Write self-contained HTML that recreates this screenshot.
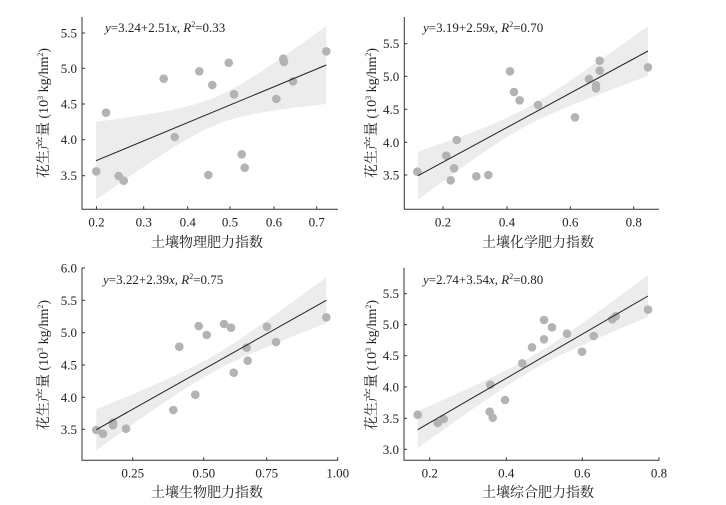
<!DOCTYPE html>
<html><head><meta charset="utf-8"><style>
body{margin:0;background:#fff}
svg{display:block}
svg text{font-family:"Liberation Serif","Times New Roman","Noto Serif CJK SC",serif;fill:#222}
</style></head><body>
<svg id="s" width="726" height="505" viewBox="0 0 726 505" xmlns="http://www.w3.org/2000/svg" font-family="Liberation Serif, Noto Serif CJK SC, serif"></svg>
<script>
const S=document.getElementById('s');let out='';
const F='font-family="Liberation Serif, Noto Serif CJK SC, serif"';
const P=[
{ax:82,ay:209.3,top:17,right:338,
 yt:[[5.5,33],[5.0,68.3],[4.5,104],[4.0,139.7],[3.5,175.7]],
 xt:[['0.2',96.5],['0.3',143.7],['0.4',187.7],['0.5',230],['0.6',274],['0.7',316.7]],
 line:[96,160.7,326.3,65],hL:39,hR:39,xm:215,hm:14,
 eq:['3.24+2.51','0.33'],ex:105,ey:32,xl:'土壤物理肥力指数',xlx:207,xly:247,ylx:43,yly:113,
 pts:[[289,514],[318,338],[356,528],[371,542],[491,236],[524,411],[598,214],[625,525],[637,255],[686,188],[702,283],[725,463],[734,503],[829,297],[850,176],[852,186],[879,244],[979,154]],ox:0,oy:0},
{ax:404.3,ay:209.3,top:17,right:659,
 yt:[[5.5,43.7],[5.0,76.3],[4.5,109.3],[4.0,142.3],[3.5,175]],
 xt:[['0.2',443],['0.4',507],['0.6',570.3],['0.8',633.7]],
 line:[418,175.7,648,51],hL:24,hR:25,xm:523,hm:9,
 eq:['3.19+2.59','0.70'],ex:423,ey:32,xl:'土壤化学肥力指数',xlx:538,xly:247,ylx:371,yly:113,
 pts:[[163,515],[250,467],[263,541],[273,505],[281,420],[340,529],[376,525],[441,214],[453,276],[470,301],[525,315],[636,352],[678,237],[699,256],[699,265],[710,182],[710,212],[855,202]],ox:363,oy:0},
{ax:82,ay:460.3,top:267.7,right:338,
 yt:[[6.0,268],[5.5,300.3],[5.0,332.7],[4.5,365],[4.0,397.3],[3.5,429.3]],
 xt:[['0.25',132.7],['0.50',203.7],['0.75',266.7],['1.00',337.7]],
 line:[96.3,429.7,326.3,300.3],hL:20.5,hR:23,xm:210,hm:8,
 eq:['3.22+2.39','0.75'],ex:103,ey:284,xl:'土壤生物肥力指数',xlx:207,xly:497,ylx:43,yly:365,
 pts:[[289,534],[309,545],[339,512],[339,520],[378,530],[520,474],[538,284],[586,428],[596,222],[620,249],[672,216],[693,227],[701,362],[740,287],[743,326],[801,224],[828,270],[979,196]],ox:0,oy:252},
{ax:404,ay:460.3,top:267.7,right:659,
 yt:[[5.5,293.7],[5.0,324.7],[4.5,355.7],[4.0,387],[3.5,418.3],[3.0,449.3]],
 xt:[['0.2',429.7],['0.4',506.3],['0.6',582.3],['0.8',659]],
 line:[417.7,429.7,648,296],hL:18.5,hR:21,xm:533,hm:7,
 eq:['2.74+3.54','0.80'],ex:423,ey:284,xl:'土壤综合肥力指数',xlx:538,xly:497,ylx:371,yly:365,
 pts:[[164,488],[224,513],[242,501],[380,479],[382,398],[389,497],[426,444],[478,334],[507,286],[543,204],[543,262],[567,226],[612,245],[657,299],[692,252],[748,202],[758,193],[855,173]],ox:363,oy:252}
];
for(const p of P){
 const [x0,y0,x1,y1]=p.line;const ly=x=>y0+(y1-y0)*(x-x0)/(x1-x0);
 const h=x=>{const H=x<p.xm?p.hL:p.hR;const e=x<p.xm?x0:x1;const t=(x-p.xm)/(e-p.xm);return Math.sqrt(p.hm*p.hm+(H*H-p.hm*p.hm)*t*t);};
 let up=[],lo=[];
 for(let i=0;i<=60;i++){const x=x0+(x1-x0)*i/60;up.push(x.toFixed(1)+','+(ly(x)-h(x)).toFixed(1));lo.unshift(x.toFixed(1)+','+(ly(x)+h(x)).toFixed(1));}
 out+=`<polygon points="${up.concat(lo).join(' ')}" fill="#ececec"/>`;
 for(const [zx,zy] of p.pts){out+=`<circle cx="${(p.ox+zx/3).toFixed(1)}" cy="${(p.oy+zy/3).toFixed(1)}" r="4.3" fill="#b3b3b3"/>`;}
 out+=`<line x1="${x0}" y1="${y0}" x2="${x1}" y2="${y1}" stroke="#222" stroke-width="1"/>`;
 out+=`<path d="M${p.ax},${p.top}V${p.ay}H${p.right}" fill="none" stroke="#333" stroke-width="1"/>`;
 for(const [v,y] of p.yt){out+=`<line x1="${p.ax}" y1="${y}" x2="${p.ax+3}" y2="${y}" stroke="#333"/><text ${F} x="${p.ax-5}" y="${y+4.5}" font-size="13" text-anchor="end">${v.toFixed(1)}</text>`;}
 for(const [l,x] of p.xt){out+=`<line x1="${x}" y1="${p.ay}" x2="${x}" y2="${p.ay-3}" stroke="#333"/><text ${F} x="${x}" y="${p.ay+17}" font-size="13" text-anchor="middle">${l}</text>`;}
 out+=`<text ${F} x="${p.ex}" y="${p.ey}" font-size="13"><tspan font-style="italic">y</tspan>=${p.eq[0]}<tspan font-style="italic">x</tspan>, <tspan font-style="italic">R</tspan><tspan font-size="8" dy="-5">2</tspan><tspan dy="5">=${p.eq[1]}</tspan></text>`;
 out+=`<text ${F} x="${p.xlx}" y="${p.xly}" font-size="14" text-anchor="middle">${p.xl}</text>`;
 out+=`<text ${F} transform="translate(${p.ylx+5},${p.yly}) rotate(-90)" font-size="14" text-anchor="middle">花生产量 (10<tspan font-size="8" dy="-5">3</tspan><tspan dy="5"> kg/hm</tspan><tspan font-size="8" dy="-5">2</tspan><tspan dy="5">)</tspan></text>`;
}
S.innerHTML=out;
</script>
</body></html>
